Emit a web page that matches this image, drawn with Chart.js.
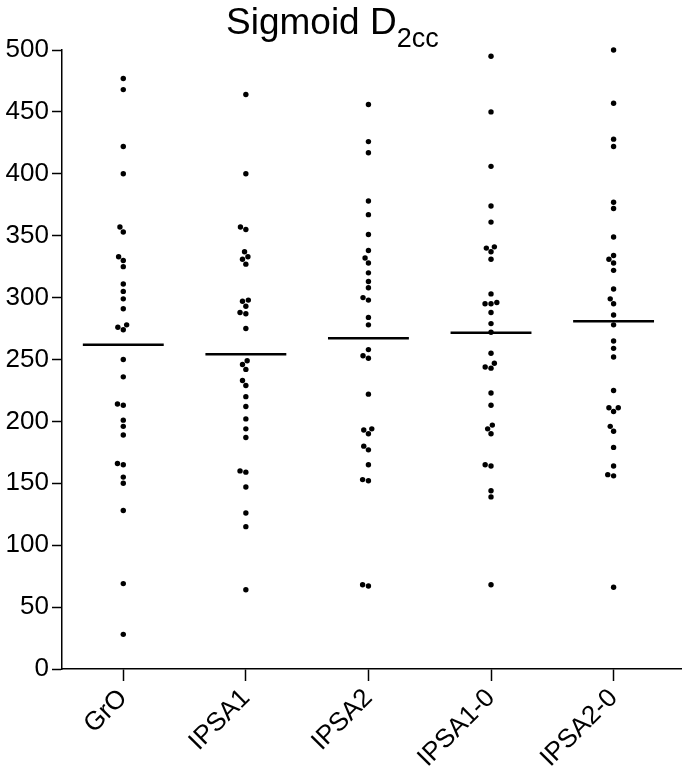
<!DOCTYPE html>
<html>
<head>
<meta charset="utf-8">
<script src="https://cdn.jsdelivr.net/npm/chart.js@4.4.0/dist/chart.umd.min.js"></script>
<style>
  body { margin: 0; background: #fff; }
  #wrap { position: relative; width: 685px; height: 776px; }
  #title { position: absolute; left: 226px; top: 4px; font: 37px Arial, 'Liberation Sans', sans-serif; line-height: 36px; color: #000; white-space: nowrap; }
  #title span { font-size: 27px; position: relative; top: 13px; }
</style>
</head>
<body>
<div id="wrap">
  <canvas id="sigmoidChart" width="685" height="776"></canvas>
  <div id="title">Sigmoid D<span>2cc</span></div>
</div>
<script>
const groups = ['GrO', 'IPSA1', 'IPSA2', 'IPSA1-0', 'IPSA2-0'];
const yTicks = [0, 50, 100, 150, 200, 250, 300, 350, 400, 450, 500];

const gro = [477, 468, 422, 400, 357, 353, 333, 330, 325, 311, 305, 299, 291, 278, 276, 274,
    250, 236, 214, 213, 201, 196, 189, 166, 165, 155, 150, 128, 69, 28];
const ipsa1 = [464, 400, 357, 355, 337, 333, 331, 327, 298, 297, 293, 288, 287, 275,
    249, 246, 242, 233, 229, 220, 212, 202, 194, 187, 160, 159, 147, 126, 115, 64];
const ipsa2 = [456, 426, 417, 378, 367, 351, 338, 332, 328, 320, 313, 308, 300, 298, 284, 278,
    258, 253, 251, 222, 194, 193, 190, 180, 177, 165, 153, 152, 68, 67];
const ipsa10 = [495, 450, 406, 374, 361, 341, 340, 337, 331, 303, 296, 295, 295, 288, 279, 272,
    255, 247, 244, 243, 223, 213, 197, 194, 190, 165, 164, 144, 139, 68];
const ipsa20 = [500, 457, 428, 422, 377, 372, 349, 334, 331, 328, 322, 307, 299, 295, 286, 278,
    265, 259, 252, 225, 211, 211, 208, 196, 192, 179, 164, 157, 156, 66];

const allValues = [gro, ipsa1, ipsa2, ipsa10, ipsa20];

// simple beeswarm so close dots spread sideways like the original
const PX_X = 123.5, PX_Y = 619 / 500, DOT = 6;
function swarm(vals, center) {
    const placed = [];
    return vals.slice().sort((a, b) => a - b).map(v => {
        const py = v * PX_Y;
        const blocked = [];
        placed.forEach(p => {
            const dy = Math.abs(p.py - py);
            if (dy < DOT) {
                const w = Math.sqrt(DOT * DOT - dy * dy);
                blocked.push([p.px - w, p.px + w]);
            }
        });
        const cands = [0];
        blocked.forEach(b => cands.push(b[0], b[1]));
        cands.sort((a, b) => Math.abs(a) - Math.abs(b));
        const px = cands.find(c => blocked.every(b => c <= b[0] + 1e-6 || c >= b[1] - 1e-6));
        placed.push({ px: px, py: py });
        return { x: center + px / PX_X, y: v };
    });
}

const mean = arr => arr.reduce((s, v) => s + v, 0) / arr.length;

let datasets = [];
allValues.forEach((vals, i) => {
    datasets.push({
        type: 'scatter',
        data: swarm(vals, i + 1),
        pointRadius: 2.7,
        pointBackgroundColor: '#000',
        pointBorderWidth: 0,
        clip: false
    });
    const m = mean(vals);
    datasets.push({
        type: 'line',
        data: [{ x: i + 1 - 0.33, y: m }, { x: i + 1 + 0.33, y: m }],
        borderColor: '#000',
        borderWidth: 2.5,
        pointRadius: 0
    });
});

const font = { family: "Arial, 'Liberation Sans', sans-serif", size: 26 };

let ctx = document.getElementById('sigmoidChart').getContext('2d');
let myChart = new Chart(ctx, {
    type: 'scatter',
    data: { datasets: datasets },
    options: {
        responsive: false,
        animation: false,
        layout: { padding: { top: 50, left: 0, right: 0, bottom: 0 } },
        plugins: { legend: { display: false }, tooltip: { enabled: false } },
        scales: {
            x: {
                type: 'linear',
                min: 0.5,
                max: 5.55,
                afterBuildTicks: s => { s.ticks = groups.map((g, i) => ({ value: i + 1 })); },
                afterFit: s => { s.height = 107; },
                ticks: {
                    color: '#000',
                    font: font,
                    padding: 2,
                    minRotation: 45,
                    maxRotation: 45,
                    autoSkip: false,
                    callback: v => groups[v - 1]
                },
                grid: { drawOnChartArea: false, tickLength: 12, color: '#000', tickWidth: 1.5 },
                border: { color: '#000', width: 1.5 }
            },
            y: {
                min: 0,
                max: 500,
                afterBuildTicks: s => { s.ticks = yTicks.map(v => ({ value: v })); },
                afterFit: s => { s.width = 62; },
                ticks: { color: '#000', font: font, padding: 3 },
                grid: { drawOnChartArea: false, tickLength: 10, color: '#000', tickWidth: 1.5 },
                border: { color: '#000', width: 1.5 }
            }
        }
    }
});
</script>
</body>
</html>
